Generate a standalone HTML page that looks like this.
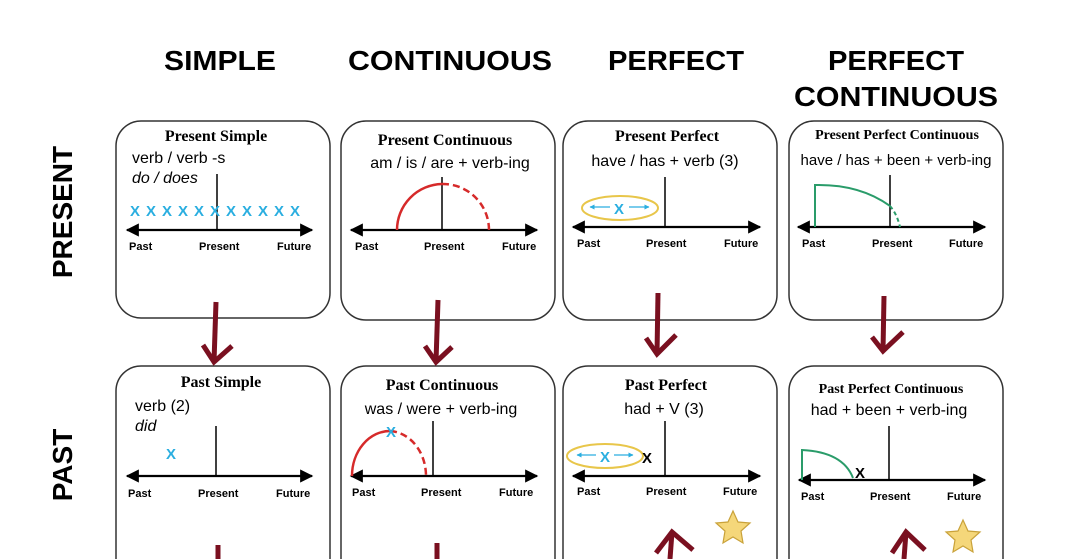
<!DOCTYPE html>
<html><head><meta charset="utf-8"><style>
html,body{margin:0;padding:0;background:#fff;width:1065px;height:559px;overflow:hidden}
svg{display:block}
.h{font-family:"Liberation Sans",sans-serif;font-weight:bold;font-size:28px;text-anchor:middle}
.t{font-family:"Liberation Serif",serif;font-weight:bold;font-size:16px;text-anchor:middle}
.f{font-family:"Liberation Sans",sans-serif;font-size:16px}
.l{font-family:"Liberation Sans",sans-serif;font-weight:bold;font-size:11px}
.x{font-family:"Liberation Sans",sans-serif;font-weight:bold;fill:#2aaee0;font-size:15px;text-anchor:middle}
</style></head><body>
<svg width="1065" height="559" viewBox="0 0 1065 559" xmlns="http://www.w3.org/2000/svg">
<defs>
<marker id="a" viewBox="0 0 10 10" refX="9" refY="5" markerWidth="6" markerHeight="6" orient="auto-start-reverse"><path d="M0,0L10,5L0,10z" fill="#000"/></marker>
<marker id="b" viewBox="0 0 10 10" refX="9" refY="5" markerWidth="4" markerHeight="4" orient="auto-start-reverse"><path d="M0,0L10,5L0,10z" fill="#2aaee0"/></marker>
<g id="star"><path d="M0,-17L5,-6L17,-5L8,3L10,15L0,9L-10,15L-8,3L-17,-5L-5,-6z" fill="#f5d77a" stroke="#c9a23a" stroke-width="1.2"/></g>
</defs>
<text class="h" x="220" y="70" textLength="112" lengthAdjust="spacingAndGlyphs">SIMPLE</text>
<text class="h" x="450" y="70" textLength="204" lengthAdjust="spacingAndGlyphs">CONTINUOUS</text>
<text class="h" x="676" y="70" textLength="136" lengthAdjust="spacingAndGlyphs">PERFECT</text>
<text class="h" x="896" y="70" textLength="136" lengthAdjust="spacingAndGlyphs">PERFECT</text>
<text class="h" x="896" y="106" textLength="204" lengthAdjust="spacingAndGlyphs">CONTINUOUS</text>
<text class="h" transform="translate(72,212) rotate(-90)">PRESENT</text>
<text class="h" transform="translate(72,465) rotate(-90)">PAST</text>

<g fill="none" stroke="#333" stroke-width="1.5">
<rect x="116" y="121" width="214" height="197" rx="25"/>
<rect x="341" y="121" width="214" height="199" rx="25"/>
<rect x="563" y="121" width="214" height="199" rx="25"/>
<rect x="789" y="121" width="214" height="199" rx="25"/>
<path d="M116,559 V391 A25,25 0 0 1 141,366 H305 A25,25 0 0 1 330,391 V559"/>
<path d="M341,559 V391 A25,25 0 0 1 366,366 H530 A25,25 0 0 1 555,391 V559"/>
<path d="M563,559 V391 A25,25 0 0 1 588,366 H752 A25,25 0 0 1 777,391 V559"/>
<path d="M789,559 V391 A25,25 0 0 1 814,366 H978 A25,25 0 0 1 1003,391 V559"/>
</g>

<g stroke="#000" stroke-width="2.2" marker-start="url(#a)" marker-end="url(#a)">
<line x1="127" y1="230" x2="312" y2="230"/>
<line x1="351" y1="230" x2="537" y2="230"/>
<line x1="573" y1="227" x2="760" y2="227"/>
<line x1="798" y1="227" x2="985" y2="227"/>
<line x1="127" y1="476" x2="312" y2="476"/>
<line x1="351" y1="476" x2="537" y2="476"/>
<line x1="573" y1="476" x2="760" y2="476"/>
<line x1="799" y1="480" x2="985" y2="480"/>
</g>
<g stroke="#000" stroke-width="1.5">
<line x1="217" y1="174" x2="217" y2="230"/>
<line x1="442" y1="177" x2="442" y2="230"/>
<line x1="665" y1="177" x2="665" y2="227"/>
<line x1="890" y1="175" x2="890" y2="227"/>
<line x1="216" y1="426" x2="216" y2="476"/>
<line x1="433" y1="421" x2="433" y2="476"/>
<line x1="665" y1="421" x2="665" y2="476"/>
<line x1="889" y1="426" x2="889" y2="480"/>
</g>
<g>
<text class="l" x="129" y="250">Past</text><text class="l" x="199" y="250">Present</text><text class="l" x="277" y="250">Future</text>
<text class="l" x="355" y="250">Past</text><text class="l" x="424" y="250">Present</text><text class="l" x="502" y="250">Future</text>
<text class="l" x="577" y="247">Past</text><text class="l" x="646" y="247">Present</text><text class="l" x="724" y="247">Future</text>
<text class="l" x="802" y="247">Past</text><text class="l" x="872" y="247">Present</text><text class="l" x="949" y="247">Future</text>
<text class="l" x="128" y="497">Past</text><text class="l" x="198" y="497">Present</text><text class="l" x="276" y="497">Future</text>
<text class="l" x="352" y="496">Past</text><text class="l" x="421" y="496">Present</text><text class="l" x="499" y="496">Future</text>
<text class="l" x="577" y="495">Past</text><text class="l" x="646" y="495">Present</text><text class="l" x="723" y="495">Future</text>
<text class="l" x="801" y="500">Past</text><text class="l" x="870" y="500">Present</text><text class="l" x="947" y="500">Future</text>
</g>

<text class="t" x="216" y="141">Present  Simple</text>
<text class="t" x="445" y="145">Present Continuous</text>
<text class="t" x="667" y="141">Present Perfect</text>
<text class="t" x="897" y="139" style="font-size:14px">Present Perfect Continuous</text>
<text class="t" x="221" y="387">Past  Simple</text>
<text class="t" x="442" y="390">Past Continuous</text>
<text class="t" x="666" y="390">Past Perfect</text>
<text class="t" x="891" y="393" style="font-size:14px">Past Perfect Continuous</text>

<text class="f" x="132" y="163">verb / verb -s</text>
<text class="f" x="132" y="183" font-style="italic">do / does</text>
<text class="f" x="450" y="168" text-anchor="middle">am / is / are + verb-ing</text>
<text class="f" x="665" y="166" text-anchor="middle">have / has + verb (3)</text>
<text class="f" x="896" y="165" text-anchor="middle" style="font-size:15px">have / has + been + verb-ing</text>
<text class="f" x="135" y="411">verb (2)</text>
<text class="f" x="135" y="431" font-style="italic">did</text>
<text class="f" x="441" y="414" text-anchor="middle">was / were + verb-ing</text>
<text class="f" x="664" y="414" text-anchor="middle">had + V (3)</text>
<text class="f" x="889" y="415" text-anchor="middle">had + been + verb-ing</text>

<text class="x" x="135" y="216">X</text><text class="x" x="151" y="216">X</text><text class="x" x="167" y="216">X</text><text class="x" x="183" y="216">X</text><text class="x" x="199" y="216">X</text><text class="x" x="215" y="216">X</text><text class="x" x="231" y="216">X</text><text class="x" x="247" y="216">X</text><text class="x" x="263" y="216">X</text><text class="x" x="279" y="216">X</text><text class="x" x="295" y="216">X</text>
<text class="x" x="171" y="459">X</text>

<path d="M397,230 A46,46 0 0 1 442,184" fill="none" stroke="#d62a2a" stroke-width="2.5"/>
<path d="M442,184 A46,46 0 0 1 489,230" fill="none" stroke="#d62a2a" stroke-width="2.5" stroke-dasharray="7,4"/>
<path d="M352,476 A38,45 0 0 1 390,431" fill="none" stroke="#d62a2a" stroke-width="2.5"/>
<path d="M390,431 A38,45 0 0 1 426,476" fill="none" stroke="#d62a2a" stroke-width="2.5" stroke-dasharray="7,4"/>
<text class="x" x="391" y="437">X</text>

<ellipse cx="620" cy="208" rx="38" ry="12" fill="none" stroke="#e8c64a" stroke-width="2"/>
<line x1="610" y1="207" x2="590" y2="207" stroke="#2aaee0" stroke-width="1.3" marker-end="url(#b)"/>
<line x1="629" y1="207" x2="649" y2="207" stroke="#2aaee0" stroke-width="1.3" marker-end="url(#b)"/>
<text class="x" x="619" y="214">X</text>
<ellipse cx="605" cy="456" rx="38" ry="12" fill="none" stroke="#e8c64a" stroke-width="2"/>
<line x1="596" y1="455" x2="577" y2="455" stroke="#2aaee0" stroke-width="1.3" marker-end="url(#b)"/>
<line x1="614" y1="455" x2="633" y2="455" stroke="#2aaee0" stroke-width="1.3" marker-end="url(#b)"/>
<text class="x" x="605" y="462">X</text>
<text class="x" x="647" y="463" style="fill:#000">X</text>

<path d="M815,227 L815,185 Q860,184 890,206" fill="none" stroke="#2a9c6a" stroke-width="2"/>
<path d="M890,206 Q897,214 900,227" fill="none" stroke="#2a9c6a" stroke-width="2" stroke-dasharray="4,3"/>
<path d="M802,480 L802,450 Q843,452 853,478" fill="none" stroke="#2a9c6a" stroke-width="2"/>
<text class="x" x="860" y="478" style="fill:#000">X</text>

<use href="#star" x="733" y="528"/>
<use href="#star" x="963" y="537"/>

<g stroke="#7a1020" stroke-width="5" fill="none">
<path d="M216,302 L214,362"/><path d="M203,345 L214,362 L232,346"/>
<path d="M438,300 L436,362"/><path d="M425,346 L436,362 L452,347"/>
<path d="M658,293 L657,354"/><path d="M646,338 L657,354 L676,335"/>
<path d="M884,296 L883,351"/><path d="M872,337 L883,351 L903,332"/>
<path d="M218,545 L218,559"/>
<path d="M437,543 L437,559"/>
<path d="M670,559 L672,532"/><path d="M656,553 L672,532 L693,550"/>
<path d="M904,559 L906,532"/><path d="M892,553 L906,532 L925,550"/>
</g>
</svg>
</body></html>
